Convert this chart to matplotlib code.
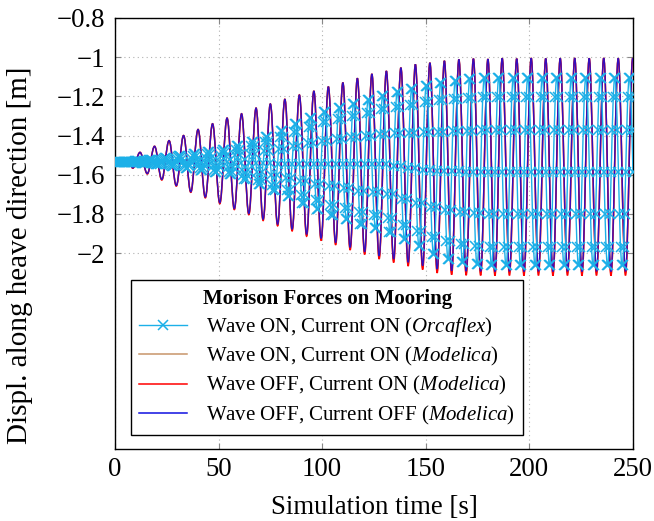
import matplotlib.pyplot as plt
from matplotlib.path import Path
from matplotlib.patches import PathPatch
from matplotlib.lines import Line2D
import numpy as np

plt.rcParams.update({
  'font.family': ['Liberation Serif', 'DejaVu Serif'],
  'mathtext.fontset': 'custom',
  'mathtext.rm': 'Liberation Serif',
  'mathtext.it': 'Liberation Serif:italic',
  'mathtext.bf': 'Liberation Serif:bold',
})

# Modelica runs, read as extrema of the heave signal [s], [m]
start_t = [0.0, 6.8]
start_v = [-1.53, -1.53]

peak_t = [12.1, 19.1, 26.1, 33.1, 40.1, 47.1, 54.1, 61.1, 68.1, 75.0,
          82.0, 89.0, 96.0, 103.0, 110.0, 117.0, 124.0, 131.0, 138.0, 145.0,
          152.0, 159.0, 166.0, 173.0, 180.0, 186.9, 193.9, 200.9, 207.9, 214.9,
          221.9, 228.9, 235.9, 242.9, 249.9]
peak_v = [-1.486, -1.455, -1.426, -1.400, -1.369, -1.340, -1.311, -1.289, -1.260, -1.239,
          -1.215, -1.193, -1.173, -1.151, -1.130, -1.108, -1.086, -1.071, -1.054, -1.037,
          -1.029, -1.019, -1.012, -1.008, -1.010, -1.006, -1.008, -1.005, -1.007, -1.006,
          -1.005, -1.006, -1.005, -1.006, -1.005]

trough_t = [8.6, 15.6, 22.6, 29.6, 36.6, 43.6, 50.6, 57.6, 64.6, 71.5,
            78.5, 85.5, 92.5, 99.5, 106.5, 113.5, 120.5, 127.5, 134.5, 141.5,
            148.5, 155.5, 162.5, 169.5, 176.5, 183.4, 190.4, 197.4, 204.4, 211.4,
            218.4, 225.4, 232.4, 239.4, 246.4]
trough_blue = [-1.565, -1.594, -1.624, -1.655, -1.687, -1.714, -1.743, -1.773, -1.798, -1.827,
               -1.853, -1.878, -1.904, -1.925, -1.946, -1.971, -1.993, -2.014, -2.030, -2.047,
               -2.064, -2.081, -2.090, -2.092, -2.093, -2.094, -2.093, -2.094, -2.093, -2.094,
               -2.093, -2.094, -2.093, -2.094, -2.093]
trough_red = [-1.567, -1.596, -1.627, -1.658, -1.690, -1.718, -1.748, -1.778, -1.804, -1.834,
              -1.861, -1.887, -1.914, -1.936, -1.958, -1.984, -2.007, -2.030, -2.048, -2.066,
              -2.084, -2.101, -2.110, -2.113, -2.114, -2.115, -2.114, -2.115, -2.114, -2.115,
              -2.114, -2.115, -2.114, -2.115, -2.114]
trough_brown = [-1.566, -1.595, -1.625, -1.656, -1.688, -1.716, -1.745, -1.775, -1.801, -1.830,
                -1.857, -1.882, -1.909, -1.930, -1.952, -1.977, -2.000, -2.022, -2.039, -2.056,
                -2.074, -2.091, -2.100, -2.102, -2.103, -2.104, -2.103, -2.104, -2.103, -2.104,
                -2.103, -2.104, -2.103, -2.104, -2.103]

# Orcaflex run, one sample every 0.5 s (each sample is marked)
orca_dt = 0.5
orca_start = [-1.535, -1.535, -1.535, -1.535, -1.535, -1.535, -1.535, -1.535, -1.535,
              -1.535, -1.535, -1.535, -1.535, -1.535, -1.535, -1.535, -1.535]
orca_cycles = [
  [-1.535, -1.533, -1.531, -1.530, -1.530, -1.531, -1.533, -1.535, -1.537, -1.539, -1.540, -1.540, -1.539, -1.537],
  [-1.535, -1.531, -1.527, -1.525, -1.525, -1.527, -1.531, -1.535, -1.539, -1.543, -1.545, -1.545, -1.543, -1.539],
  [-1.535, -1.526, -1.519, -1.515, -1.515, -1.519, -1.526, -1.535, -1.544, -1.551, -1.555, -1.555, -1.551, -1.544],
  [-1.535, -1.522, -1.512, -1.506, -1.506, -1.512, -1.522, -1.535, -1.548, -1.558, -1.564, -1.564, -1.558, -1.548],
  [-1.535, -1.518, -1.504, -1.496, -1.496, -1.504, -1.518, -1.535, -1.552, -1.566, -1.574, -1.574, -1.566, -1.552],
  [-1.535, -1.513, -1.496, -1.486, -1.486, -1.496, -1.513, -1.535, -1.557, -1.574, -1.584, -1.584, -1.574, -1.557],
  [-1.535, -1.507, -1.484, -1.472, -1.472, -1.484, -1.507, -1.535, -1.563, -1.586, -1.598, -1.598, -1.586, -1.563],
  [-1.538, -1.501, -1.472, -1.455, -1.455, -1.472, -1.501, -1.538, -1.575, -1.604, -1.621, -1.621, -1.604, -1.575],
  [-1.540, -1.492, -1.454, -1.433, -1.433, -1.454, -1.492, -1.540, -1.588, -1.626, -1.647, -1.647, -1.626, -1.588],
  [-1.542, -1.481, -1.433, -1.405, -1.405, -1.433, -1.481, -1.542, -1.603, -1.651, -1.679, -1.679, -1.651, -1.603],
  [-1.543, -1.469, -1.410, -1.377, -1.377, -1.410, -1.469, -1.543, -1.617, -1.676, -1.709, -1.709, -1.676, -1.617],
  [-1.543, -1.454, -1.383, -1.343, -1.343, -1.383, -1.454, -1.543, -1.632, -1.703, -1.743, -1.743, -1.703, -1.632],
  [-1.543, -1.439, -1.355, -1.309, -1.309, -1.355, -1.439, -1.543, -1.647, -1.731, -1.777, -1.777, -1.731, -1.647],
  [-1.543, -1.426, -1.332, -1.280, -1.280, -1.332, -1.426, -1.543, -1.660, -1.754, -1.806, -1.806, -1.754, -1.660],
  [-1.543, -1.417, -1.316, -1.260, -1.260, -1.316, -1.417, -1.543, -1.669, -1.770, -1.826, -1.826, -1.770, -1.669],
  [-1.544, -1.407, -1.298, -1.237, -1.237, -1.298, -1.407, -1.544, -1.681, -1.790, -1.851, -1.851, -1.790, -1.681],
  [-1.545, -1.400, -1.283, -1.218, -1.218, -1.283, -1.400, -1.545, -1.690, -1.807, -1.872, -1.872, -1.807, -1.690],
  [-1.545, -1.391, -1.267, -1.199, -1.199, -1.267, -1.391, -1.545, -1.699, -1.823, -1.891, -1.891, -1.823, -1.699],
  [-1.555, -1.388, -1.254, -1.180, -1.180, -1.254, -1.388, -1.555, -1.722, -1.856, -1.930, -1.930, -1.856, -1.722],
  [-1.565, -1.387, -1.244, -1.165, -1.165, -1.244, -1.387, -1.565, -1.743, -1.886, -1.965, -1.965, -1.886, -1.743],
  [-1.575, -1.384, -1.231, -1.146, -1.146, -1.231, -1.384, -1.575, -1.766, -1.919, -2.004, -2.004, -1.919, -1.766],
  [-1.580, -1.380, -1.220, -1.131, -1.131, -1.220, -1.380, -1.580, -1.780, -1.940, -2.029, -2.029, -1.940, -1.780],
  [-1.583, -1.377, -1.212, -1.120, -1.120, -1.212, -1.377, -1.583, -1.789, -1.954, -2.046, -2.046, -1.954, -1.789],
  [-1.585, -1.375, -1.206, -1.112, -1.112, -1.206, -1.375, -1.585, -1.795, -1.964, -2.058, -2.058, -1.964, -1.795],
  [-1.585, -1.372, -1.202, -1.107, -1.107, -1.202, -1.372, -1.585, -1.798, -1.968, -2.063, -2.063, -1.968, -1.798],
  [-1.585, -1.372, -1.202, -1.107, -1.107, -1.202, -1.372, -1.585, -1.798, -1.968, -2.063, -2.063, -1.968, -1.798],
  [-1.585, -1.372, -1.202, -1.107, -1.107, -1.202, -1.372, -1.585, -1.798, -1.968, -2.063, -2.063, -1.968, -1.798],
  [-1.585, -1.372, -1.202, -1.107, -1.107, -1.202, -1.372, -1.585, -1.798, -1.968, -2.063, -2.063, -1.968, -1.798],
  [-1.585, -1.372, -1.202, -1.107, -1.107, -1.202, -1.372, -1.585, -1.798, -1.968, -2.063, -2.063, -1.968, -1.798],
  [-1.585, -1.372, -1.202, -1.107, -1.107, -1.202, -1.372, -1.585, -1.798, -1.968, -2.063, -2.063, -1.968, -1.798],
  [-1.585, -1.372, -1.202, -1.107, -1.107, -1.202, -1.372, -1.585, -1.798, -1.968, -2.063, -2.063, -1.968, -1.798],
  [-1.585, -1.372, -1.202, -1.107, -1.107, -1.202, -1.372, -1.585, -1.798, -1.968, -2.063, -2.063, -1.968, -1.798],
  [-1.585, -1.372, -1.202, -1.107, -1.107, -1.202, -1.372, -1.585, -1.798, -1.968, -2.063, -2.063, -1.968, -1.798],
  [-1.585, -1.372, -1.202, -1.107, -1.107, -1.202, -1.372, -1.585, -1.798, -1.968, -2.063, -2.063, -1.968, -1.798],
  [-1.585, -1.372, -1.202, -1.107, -1.107, -1.202, -1.372, -1.585],
]

xticks = [0, 50, 100, 150, 200, 250]
yticks = [-0.8, -1.0, -1.2, -1.4, -1.6, -1.8, -2.0]
ytick_labels = ['\u22120.8', '\u22121', '\u22121.2', '\u22121.4', '\u22121.6', '\u22121.8', '\u22122']

labels = [
  'Wave ON, Current ON ($\\mathit{Orcaflex}$)',
  'Wave ON, Current ON ($\\mathit{Modelica}$)',
  'Wave OFF, Current ON ($\\mathit{Modelica}$)',
  'Wave OFF, Current OFF ($\\mathit{Modelica}$)',
]


def smooth_curve(ax, troughs, **kw):
  # extrema joined by cubic segments with flat tangents at each extremum
  t = np.concatenate([start_t, peak_t, trough_t])
  v = np.concatenate([start_v, peak_v, troughs])
  order = np.argsort(t)
  t, v = t[order], v[order]
  verts = [(t[0], v[0])]
  codes = [Path.MOVETO]
  for i in range(len(t) - 1):
    d = 0.364 * (t[i + 1] - t[i])
    verts += [(t[i] + d, v[i]), (t[i + 1] - d, v[i + 1]), (t[i + 1], v[i + 1])]
    codes += [Path.CURVE4] * 3
  patch = PathPatch(Path(verts, codes), fill=False, transform=ax.transData, **kw)
  ax.add_patch(patch)


orca_v = np.concatenate([orca_start] + [np.array(c) for c in orca_cycles])
orca_t = np.arange(len(orca_v)) * orca_dt

fig = plt.figure(figsize=(6.54, 5.21), dpi=100)
ax = fig.add_axes([0.1758, 0.1382, 0.792, 0.8273])

c_orca, c_brown, c_red, c_blue = '#1cb0e8', '#c8956a', '#ff0000', '#1010e0'
smooth_curve(ax, trough_brown, edgecolor=c_brown, lw=1.1, zorder=3)
smooth_curve(ax, trough_red, edgecolor=c_red, lw=1.1, zorder=4)
smooth_curve(ax, trough_blue, edgecolor=c_blue, lw=1.0, alpha=0.85, zorder=5)
ax.plot(orca_t, orca_v, color=c_orca, lw=1.0, marker='x',
        markersize=6.5, markeredgewidth=1.1, zorder=6)

ax.set_xlim(0, 250)
ax.set_ylim(-3.0, -0.8)
ax.set_xticks(xticks)
ax.set_xticklabels([str(x) for x in xticks])
ax.set_yticks(yticks)
ax.set_yticklabels(ytick_labels)
ax.grid(True, linestyle=(0, (1, 3)), color='#b0b0b0', linewidth=0.8, zorder=0)
ax.set_axisbelow(True)
ax.tick_params(axis='both', which='major', direction='in', length=4, color='#888888',
               top=True, right=True, labelsize=19.3)
ax.tick_params(axis='y', pad=7)
ax.tick_params(axis='x', pad=6)
for s in ax.spines.values():
  s.set_linewidth(1.0)

ax.set_xlabel('Simulation time [s]', fontsize=19.3, labelpad=9)
ax.set_ylabel('Displ. along heave direction [m]', fontsize=21)
ax.yaxis.set_label_coords(-0.158, 0.45)

handles = [
  Line2D([], [], color=c_orca, lw=1.0, marker='x', markersize=6.5, markeredgewidth=1.1),
  Line2D([], [], color=c_brown, lw=1.1),
  Line2D([], [], color=c_red, lw=1.1),
  Line2D([], [], color=c_blue, lw=1.1),
]
leg = ax.legend(handles, labels, loc='lower left',
                bbox_to_anchor=(0.031, 0.0325), borderaxespad=0, fontsize=15,
                title='Morison Forces on Mooring', title_fontproperties={'weight': 'bold', 'size': 15},
                fancybox=False, framealpha=1, edgecolor='black', numpoints=1,
                handlelength=2.3, handletextpad=0.9, labelspacing=0.3, borderpad=0.4)
leg.get_frame().set_linewidth(1.0)
leg.set_zorder(10)

plt.savefig('out.png', dpi=100)
